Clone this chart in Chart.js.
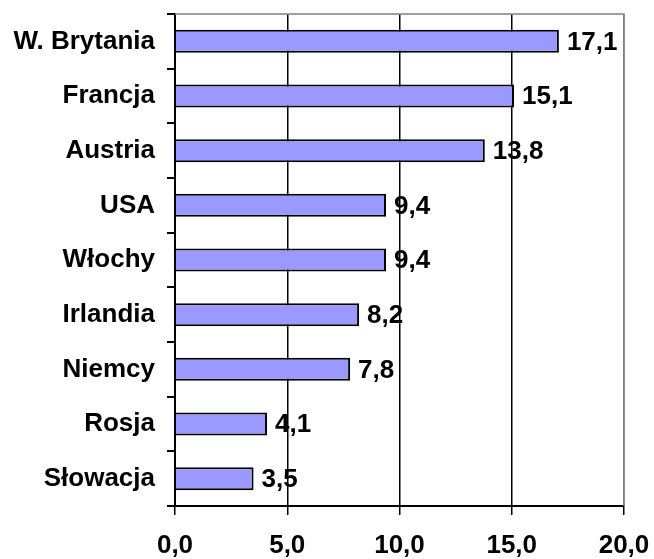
<!DOCTYPE html>
<html>
<head>
<meta charset="utf-8">
<script src="https://cdn.jsdelivr.net/npm/chart.js@4"></script>
<style>
  html, body { margin: 0; padding: 0; background: #fff; }
  #wrap { width: 654px; height: 559px; }
</style>
</head>
<body>
<div id="wrap"><canvas id="barChart"></canvas></div>
<script>
// --- Data ---
const countries = ['W. Brytania', 'Francja', 'Austria', 'USA', 'Włochy', 'Irlandia', 'Niemcy', 'Rosja', 'Słowacja'];
const values = [17.1, 15.1, 13.8, 9.4, 9.4, 8.2, 7.8, 4.1, 3.5];
const xTicks = [0, 5, 10, 15, 20];

const fmt = v => v.toFixed(1).replace('.', ',');

// gray frame on top and right of plot area
const frame = {
    id: 'frame',
    beforeDatasetsDraw(chart) {
        const { ctx, chartArea: a } = chart;
        ctx.save();
        ctx.strokeStyle = '#808080';
        ctx.lineWidth = 1.5;
        ctx.beginPath();
        ctx.moveTo(a.left, a.top);
        ctx.lineTo(a.right, a.top);
        ctx.lineTo(a.right, a.bottom);
        ctx.stroke();
        ctx.restore();
    }
};

// value labels next to the bars
const valueLabels = {
    id: 'valueLabels',
    afterDatasetsDraw(chart) {
        const { ctx } = chart;
        const meta = chart.getDatasetMeta(0);
        ctx.save();
        ctx.font = 'bold 26px "Liberation Sans", Arial, sans-serif';
        ctx.fillStyle = '#000';
        ctx.textAlign = 'left';
        ctx.textBaseline = 'middle';
        meta.data.forEach((bar, i) => {
            ctx.fillText(fmt(values[i]), bar.x + 8, bar.y + 1);
        });
        ctx.restore();
    }
};

Chart.defaults.font.family = '"Liberation Sans", Arial, sans-serif';
Chart.defaults.color = '#000';

new Chart(document.getElementById('barChart'), {
    type: 'bar',
    data: {
        labels: countries,
        datasets: [{
            data: values,
            backgroundColor: '#9999FF',
            borderColor: '#000',
            borderWidth: 2,
            categoryPercentage: 1,
            barPercentage: 0.42
        }]
    },
    options: {
        indexAxis: 'y',
        responsive: true,
        maintainAspectRatio: false,
        animation: false,
        layout: { padding: { top: 14, left: 8, right: 0, bottom: 0 } },
        plugins: { legend: { display: false }, tooltip: { enabled: false } },
        scales: {
            x: {
                min: 0,
                max: 20,
                afterBuildTicks: axis => { axis.ticks = xTicks.map(v => ({ value: v })); },
                afterFit: axis => { axis.height = 53; axis.paddingRight = 30; axis.paddingLeft = 0; },
                border: { color: '#000', width: 2 },
                grid: {
                    color: c => (c.tick && c.tick.value === 20 ? '#808080' : '#000'),
                    lineWidth: 1.5,
                    tickLength: 9,
                    tickColor: '#000'
                },
                ticks: {
                    callback: v => fmt(v),
                    font: { size: 26, weight: 'bold' },
                    padding: 15,
                    maxRotation: 0
                }
            },
            y: {
                afterFit: axis => { axis.width = 167; axis.paddingTop = 0; axis.paddingBottom = 0; },
                border: { color: '#000', width: 2 },
                grid: {
                    drawOnChartArea: false,
                    tickLength: 8,
                    color: '#000',
                    lineWidth: 2
                },
                ticks: {
                    font: { size: 26, weight: 'bold' },
                    padding: 12
                }
            }
        }
    },
    plugins: [frame, valueLabels]
});
</script>
</body>
</html>
